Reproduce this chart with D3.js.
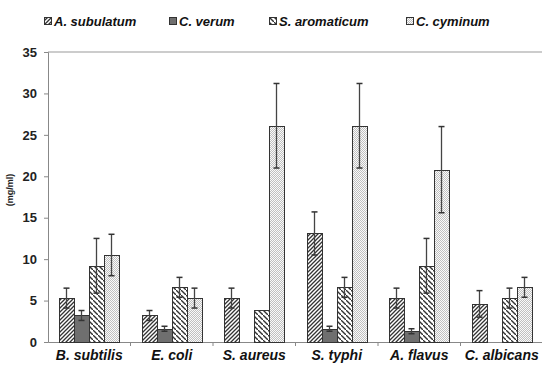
<!DOCTYPE html>
<html>
<head>
<meta charset="utf-8">
<script src="https://cdn.jsdelivr.net/npm/d3@7"></script>
<style>
  body { margin: 0; background: #fff; }
  text { font-family: "Liberation Sans", Arial, sans-serif; font-weight: bold; }
</style>
</head>
<body>
<div id="main"></div>
<script>
var organisms = ["B. subtilis", "E. coli", "S. aureus", "S. typhi", "A. flavus", "C. albicans"];
var extracts = ["A. subulatum", "C. verum", "S. aromaticum", "C. cyminum"];
// MIC means (mg/ml), one array per extract, in organism order
var subulatum = [5.3, 3.2, 5.3, 13.1, 5.3, 4.6];
var verum = [3.2, 1.6, 0, 1.6, 1.3, 0];
var aromaticum = [9.2, 6.6, 3.9, 6.6, 9.2, 5.3];
var cyminum = [10.5, 5.3, 26.1, 26.1, 20.8, 6.6];
// standard deviations
var subulatumErr = [1.2, 0.6, 1.2, 2.6, 1.2, 1.6];
var verumErr = [0.6, 0.3, 0, 0.3, 0.3, 0];
var aromaticumErr = [3.3, 1.2, 0, 1.2, 3.3, 1.2];
var cyminumErr = [2.5, 1.2, 5.1, 5.1, 5.2, 1.2];
var yTicks = [0, 5, 10, 15, 20, 25, 30, 35];

var ctx = {w: 542, h: 366, left: 48, right: 543, top: 52, bottom: 342};

var series = [subulatum, verum, aromaticum, cyminum];
var errors = [subulatumErr, verumErr, aromaticumErr, cyminumErr];
var fills = ["url(#pSub)", "#6f6f6f", "url(#pAro)", "url(#pCym)"];

var svg = d3.select("#main").append("svg")
  .attr("width", ctx.w).attr("height", ctx.h);

// patterns
var defs = svg.append("defs");
var p1 = defs.append("pattern").attr("id", "pSub").attr("patternUnits", "userSpaceOnUse")
  .attr("width", 4).attr("height", 4);
p1.append("rect").attr("width", 4).attr("height", 4).attr("fill", "#fff");
p1.append("path").attr("d", "M-1,1 l2,-2 M0,4 l4,-4 M3,5 l2,-2")
  .attr("stroke", "#333").attr("stroke-width", 1.3);
var p2 = defs.append("pattern").attr("id", "pAro").attr("patternUnits", "userSpaceOnUse")
  .attr("width", 5).attr("height", 5);
p2.append("rect").attr("width", 5).attr("height", 5).attr("fill", "#fff");
p2.append("path").attr("d", "M-1,-1 l2,2 M0,0 l5,5 M4,4 l2,2")
  .attr("stroke", "#333").attr("stroke-width", 1.4);
var p3 = defs.append("pattern").attr("id", "pCym").attr("patternUnits", "userSpaceOnUse")
  .attr("width", 2).attr("height", 2);
p3.append("rect").attr("width", 2).attr("height", 2).attr("fill", "#fafafa");
p3.append("rect").attr("width", 1).attr("height", 1).attr("fill", "#c0c0c0");
p3.append("rect").attr("x", 1).attr("y", 1).attr("width", 1).attr("height", 1).attr("fill", "#c0c0c0");

var x = d3.scaleBand().domain(organisms).range([ctx.left, ctx.right]).paddingInner(0).paddingOuter(0);
var xInner = d3.scaleBand().domain(extracts).range([9.5, x.bandwidth() - 9.5]).round(true);
var y = d3.scaleLinear().domain([0, 35]).range([ctx.bottom, ctx.top]);

// top frame line
svg.append("line")
  .attr("x1", ctx.left).attr("x2", ctx.right)
  .attr("y1", y(35)).attr("y2", y(35))
  .attr("stroke", "#999").attr("stroke-width", 1);

// y axis
var yAxis = svg.append("g")
  .attr("transform", "translate(" + ctx.left + ",0)")
  .call(d3.axisLeft(y).tickValues(yTicks).tickSize(4).tickPadding(7));
yAxis.select(".domain").attr("stroke", "#888");
yAxis.selectAll(".tick line").attr("stroke", "#888");
yAxis.selectAll("text").attr("font-size", 13).attr("fill", "#222");

// x axis
var xAxis = svg.append("g")
  .attr("transform", "translate(0," + ctx.bottom + ")")
  .call(d3.axisBottom(x).tickSize(0).tickPadding(8));
xAxis.select(".domain").attr("stroke", "#888");
xAxis.selectAll("text").attr("font-size", 14).attr("font-style", "italic").attr("fill", "#111");
// category boundary ticks
svg.append("g").selectAll("line")
  .data(organisms.slice(1))
  .enter().append("line")
  .attr("x1", function(d) { return x(d); }).attr("x2", function(d) { return x(d); })
  .attr("y1", ctx.bottom).attr("y2", ctx.bottom + 4)
  .attr("stroke", "#888");

// y label
svg.append("text")
  .attr("transform", "translate(13," + 190 + ") rotate(-90)")
  .attr("text-anchor", "middle")
  .attr("font-size", 9).attr("fill", "#222")
  .text("(mg/ml)");

// bars
var groups = svg.append("g").selectAll("g")
  .data(organisms)
  .enter().append("g")
  .attr("transform", function(d) { return "translate(" + Math.round(x(d)) + ",0)"; });

var cells = groups.selectAll("g")
  .data(function(d, i) {
    return extracts.map(function(e, k) {
      return {ext: e, k: k, v: series[k][i], err: errors[k][i]};
    });
  })
  .enter().append("g");

cells.append("rect")
  .attr("x", function(d) { return xInner(d.ext) + 0.5; })
  .attr("width", xInner.bandwidth())
  .attr("y", function(d) { return Math.round(y(d.v)) + 0.5; })
  .attr("height", function(d) { return y(0) - Math.round(y(d.v)); })
  .attr("fill", function(d) { return fills[d.k]; })
  .attr("stroke", "#333").attr("stroke-width", 1);

var withErr = cells.filter(function(d) { return d.err > 0; });
withErr.append("line")
  .attr("x1", function(d) { return xInner(d.ext) + xInner.bandwidth() / 2; })
  .attr("x2", function(d) { return xInner(d.ext) + xInner.bandwidth() / 2; })
  .attr("y1", function(d) { return y(d.v - d.err); })
  .attr("y2", function(d) { return y(d.v + d.err); })
  .attr("stroke", "#444").attr("stroke-width", 1.3);
withErr.each(function(d) {
  var cx = xInner(d.ext) + xInner.bandwidth() / 2;
  var g = d3.select(this);
  [d.v - d.err, d.v + d.err].forEach(function(val) {
    g.append("line")
      .attr("x1", cx - 3).attr("x2", cx + 3)
      .attr("y1", y(val)).attr("y2", y(val))
      .attr("stroke", "#333").attr("stroke-width", 1.5);
  });
});

// legend
var legendX = [44, 169, 269, 406];
var legend = svg.append("g").selectAll("g")
  .data(extracts)
  .enter().append("g")
  .attr("transform", function(d, i) { return "translate(" + legendX[i] + ",17)"; });
legend.append("rect")
  .attr("x", 0.5).attr("y", 0.5)
  .attr("width", 7).attr("height", 7)
  .attr("fill", function(d, i) { return fills[i]; })
  .attr("stroke", "#333").attr("stroke-width", 1);
legend.append("text")
  .attr("x", 10).attr("y", 8.5)
  .attr("font-size", 13).attr("font-style", "italic").attr("fill", "#111")
  .text(function(d) { return d; });
</script>
</body>
</html>
